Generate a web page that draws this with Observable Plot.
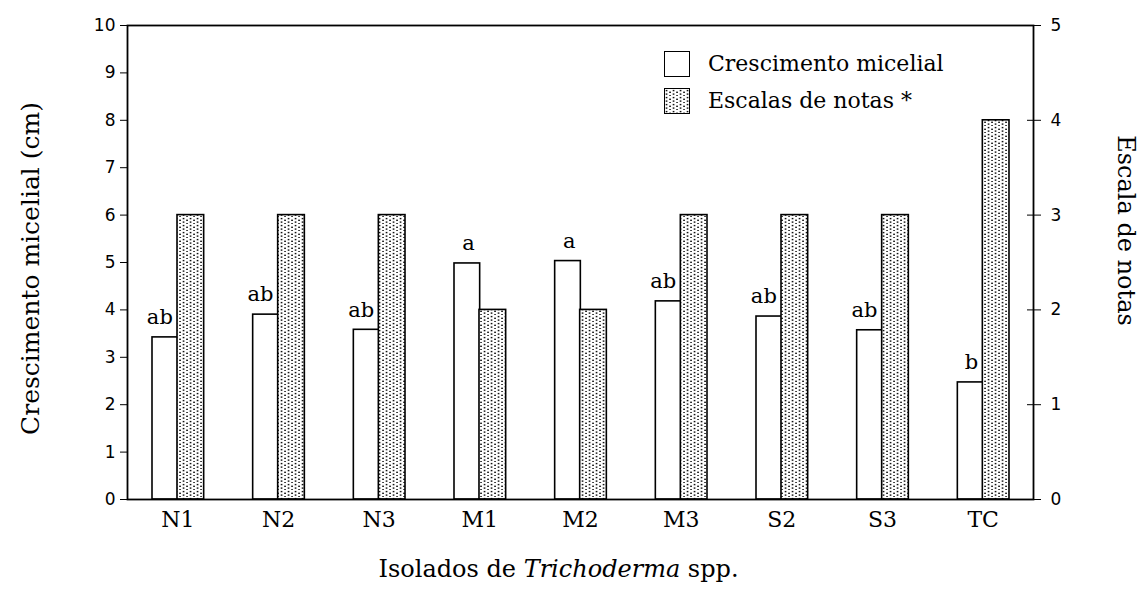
<!DOCTYPE html>
<html><head><meta charset="utf-8">
<script src="https://cdn.jsdelivr.net/npm/d3@7"></script>
<script src="https://cdn.jsdelivr.net/npm/@observablehq/plot@0.6"></script>
<style>
body{margin:0;background:#fff}
#chart{position:relative;width:1142px;height:594px}
.leg{position:absolute;font-family:'DejaVu Serif',serif;font-size:22px;line-height:26px;color:#000;white-space:nowrap}
.sw{position:absolute;width:24px;height:24px;border:1.5px solid #000;box-sizing:content-box}
</style>
</head><body><div id="chart"></div>
<script>
const isolados = ["N1","N2","N3","M1","M2","M3","S2","S3","TC"];
const crescimento = [3.42,3.90,3.58,4.98,5.03,4.18,3.86,3.57,2.47];
const notas = [3,3,3,2,2,3,3,3,4];
const letras = ["ab","ab","ab","a","a","ab","ab","ab","b"];
const ticksCresc = [0,1,2,3,4,5,6,7,8,9,10];
const ticksNotas = [0,1,2,3,4,5];
const fator = 10 / 5; // 0-5 scale drawn on 0-10 axis

const data = isolados.map((d,i)=>({isolado:d, crescimento:crescimento[i], notas:notas[i], notasEsc:notas[i]*fator, letra:letras[i]}));

const serif = "'DejaVu Serif', 'Liberation Serif', serif";
const sans = "'DejaVu Sans', 'Liberation Sans', sans-serif";

const plot = Plot.plot({
  width:1142, height:594,
  marginLeft:127, marginRight:109, marginTop:25, marginBottom:95,
  style:{fontFamily:serif, background:"white", color:"black"},
  x:{domain:isolados, padding:0, round:false, label:null},
  y:{domain:[0,10], label:null},
  marks:[
    Plot.barY(data,{x:"isolado", y:"crescimento", fill:"white", stroke:"black", strokeWidth:1.6, insetLeft:25, insetRight:50}),
    Plot.barY(data,{x:"isolado", y:"notasEsc", fill:"url(#pontilhado)", stroke:"black", strokeWidth:1.6, insetLeft:50, insetRight:24}),
    Plot.text(data,{x:"isolado", y:"crescimento", text:"letra", textAnchor:"end", dx:-5, dy:-20, fontSize:21, fontFamily:serif}),
    Plot.axisY({anchor:"left", ticks:ticksCresc, tickSize:7, tickPadding:5, fontFamily:sans, fontSize:17, label:null}),
    Plot.axisY({anchor:"right", ticks:ticksNotas.map(d=>d*fator), tickSize:14, dx:-7, tickFormat:()=>"", label:null}),
    Plot.axisY({anchor:"right", ticks:ticksNotas.map(d=>d*fator), tickSize:0, tickPadding:17, tickFormat:d=>d/fator, fontFamily:sans, fontSize:17, label:null}),
    Plot.axisX({anchor:"bottom", tickSize:0, tickPadding:12, fontSize:22, fontFamily:serif, label:null}),
    Plot.frame({stroke:"black", strokeWidth:1.8}),
    Plot.text(["Crescimento micelial (cm)"], {text:d=>d, frameAnchor:"left", textAnchor:"middle", rotate:-90, dx:-97, dy:6, fontSize:25, fontFamily:serif}),
    Plot.text(["Escala de notas"], {text:d=>d, frameAnchor:"right", textAnchor:"middle", rotate:90, dx:92, dy:-32, fontSize:24, fontFamily:serif}),
    Plot.text(["Isolados de Trichoderma spp."], {text:d=>d, frameAnchor:"bottom", textAnchor:"middle", dx:-22, dy:77, fontSize:24, fontFamily:serif, className:"xtitle"})
  ]
});

// stipple pattern
const defs = d3.select(plot).insert("defs", ":first-child");
const pat = defs.append("pattern").attr("id","pontilhado").attr("patternUnits","userSpaceOnUse").attr("width",7).attr("height",7);
pat.append("rect").attr("width",7).attr("height",7).attr("fill","white");
[[1.5,1.5],[5,3.2],[1.5,5],[5,6.7]].forEach(([x,y])=>pat.append("rect").attr("x",x-0.8).attr("y",y-0.6).attr("width",1.7).attr("height",1.4).attr("fill","#111"));

// italic genus name in x title
d3.select(plot).selectAll(".xtitle text").each(function(){
  const t = d3.select(this); const s = t.text(); t.text("");
  const parts = s.split("Trichoderma");
  t.append("tspan").text(parts[0]);
  t.append("tspan").attr("font-style","italic").text("Trichoderma");
  t.append("tspan").text(parts[1]);
});

const chart = document.getElementById("chart");
chart.appendChild(plot);

// legend
const legend = [
  {label:"Crescimento micelial", fill:"white", top:51},
  {label:"Escalas de notas *", fill:"url(#pontilhado)", top:88}
];
legend.forEach(l=>{
  const sw = document.createElement("div"); sw.className="sw"; sw.style.left="664px"; sw.style.top=l.top+"px";
  sw.innerHTML = `<svg width="24" height="24" style="display:block"><rect width="24" height="24" fill="${l.fill}"/></svg>`;
  chart.appendChild(sw);
  const tx = document.createElement("div"); tx.className="leg"; tx.style.left="708px"; tx.style.top=(l.top+0)+"px"; tx.textContent=l.label;
  chart.appendChild(tx);
});
</script>
</body></html>
